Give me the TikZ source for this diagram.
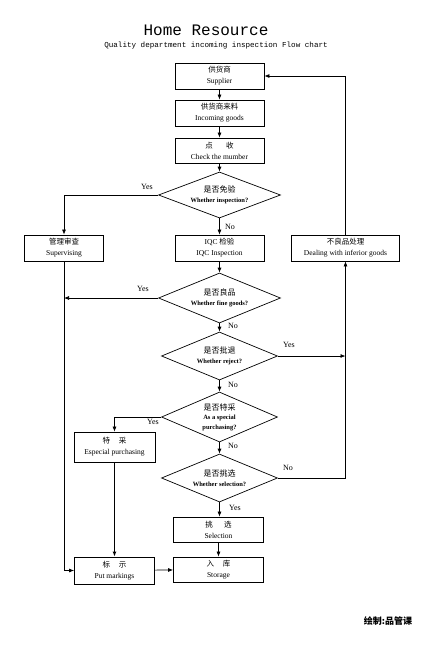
\documentclass[tikz,border=0pt]{standalone}
\usepackage{fontspec}
\setmainfont{Liberation Serif}
\newfontfamily\cjk{Noto Sans CJK SC}
\newfontfamily\monof{Liberation Mono}
\usetikzlibrary{shapes.geometric,arrows.meta}
\begin{document}
\begin{tikzpicture}[x=1pt,y=-1pt,
  box/.style={draw,line width=0.8pt,align=center,inner sep=0pt,minimum height=26pt,font=\fontsize{7.5}{11}\selectfont},
  dia/.style={draw,line width=0.7pt,shape=diamond,aspect=2.5,inner sep=0pt,align=center,font=\fontsize{6.5}{9.5}\selectfont},
  ln/.style={line width=0.7pt},
  arr/.style={line width=0.7pt,-{Latex[length=5pt,width=4pt]}},
  lab/.style={font=\fontsize{8}{9}\selectfont,inner sep=0pt}]
\useasboundingbox (0,0) rectangle (427,649);
\node (title) at (206,30) {\monof\fontsize{16}{18}\selectfont Home Resource};
\node (sub) at (216,46) {\monof\fontsize{7.6}{9}\selectfont Quality department incoming inspection Flow chart};

\node[box,minimum width=89pt] (sup) at (219.5,76) {{\cjk 供货商}\\Supplier};
\node[box,minimum width=89pt] (inc) at (219.5,113) {{\cjk 供货商来料}\\Incoming goods};
\node[box,minimum width=89pt,minimum height=25pt] (chk) at (219.5,150.5) {{\cjk 点\hspace{1.8em}收}\\Check the mumber};
\node[dia,minimum width=122pt,minimum height=46pt] (d1) at (219.5,195) {{\cjk\fontsize{8}{9}\selectfont 是否免验}\\\bfseries Whether inspection?};
\node[box,minimum width=79pt] (supv) at (64,248) {{\cjk 管理审查}\\Supervising};
\node[box,minimum width=89pt] (iqc) at (219.5,248) {{IQC \cjk 检验}\\IQC Inspection};
\node[box,minimum width=108pt] (deal) at (345.5,248) {{\cjk 不良品处理}\\Dealing with inferior goods};
\node[dia,minimum width=122pt,minimum height=50pt] (d2) at (219.5,298) {{\cjk\fontsize{8}{9}\selectfont 是否良品}\\\bfseries Whether fine goods?};
\node[dia,minimum width=116pt,minimum height=48pt] (d3) at (219.5,356) {{\cjk\fontsize{8}{9}\selectfont 是否批退}\\\bfseries Whether reject?};
\node[dia,minimum width=116pt,minimum height=50pt] (d4) at (219.5,417) {{\cjk\fontsize{8}{9}\selectfont 是否特采}\\\bfseries As a special\\\bfseries purchasing?};
\node[dia,minimum width=116pt,minimum height=48pt] (d5) at (219.5,478) {{\cjk\fontsize{8}{9}\selectfont 是否挑选}\\\bfseries Whether selection?};
\node[box,minimum width=81pt,minimum height=30pt] (esp) at (114.5,447) {{\cjk 特\hspace{1.2em}采}\\Especial purchasing};
\node[box,minimum width=90pt,minimum height=25pt] (sel) at (218.5,529.5) {{\cjk 挑\hspace{1.5em}选}\\Selection};
\node[box,minimum width=90pt,minimum height=25pt] (sto) at (218.5,569.5) {{\cjk 入\hspace{1.2em}库}\\Storage};
\node[box,minimum width=80pt,minimum height=27pt] (put) at (114.5,570.5) {{\cjk 标\hspace{1.2em}示}\\Put markings};

\draw[arr] (sup) -- (inc);
\draw[arr] (inc) -- (chk);
\draw[arr] (chk) -- (d1);
\draw[arr] (d1) -- (iqc);
\draw[arr] (iqc) -- (d2);
\draw[arr] (d2) -- (d3);
\draw[arr] (d3) -- (d4);
\draw[arr] (d4) -- (d5);
\draw[arr] (d5.south) -- (d5.south |- sel.north);
\draw[arr] (sel) -- (sto);
\draw[arr] (d1.west) -| (supv.north);
\draw[arr] (supv.south) |- (put.west);
\draw[arr] (d2.west) -- (d2.west -| supv.south);
\draw[arr] (d4.west) -| (esp.north);
\draw[line width=1.4pt,-{Latex[length=5pt,width=4pt]}] (esp) -- (put);
\draw[arr] (put) -- (sto);
\draw[arr] (d3.east) -- (d3.east -| deal.south);
\draw[arr] (d5.east) -| (deal.south);
\draw[arr] (deal.north) |- (sup.east);

\node[lab] (y1) at (147,187) {Yes};
\node[lab] (n1) at (230,227) {No};
\node[lab] (y2) at (143,289) {Yes};
\node[lab] (n2) at (233,326) {No};
\node[lab] (y3) at (289,345) {Yes};
\node[lab] (n3) at (233,385) {No};
\node[lab] (y4) at (153,422) {Yes};
\node[lab] (n4) at (233,446) {No};
\node[lab] (n5) at (288,468) {No};
\node[lab] (y5) at (235,508) {Yes};

\node (foot) at (388,621) {\cjk\bfseries\fontsize{9}{10}\selectfont 绘制:品管课};
\end{tikzpicture}
\end{document}
